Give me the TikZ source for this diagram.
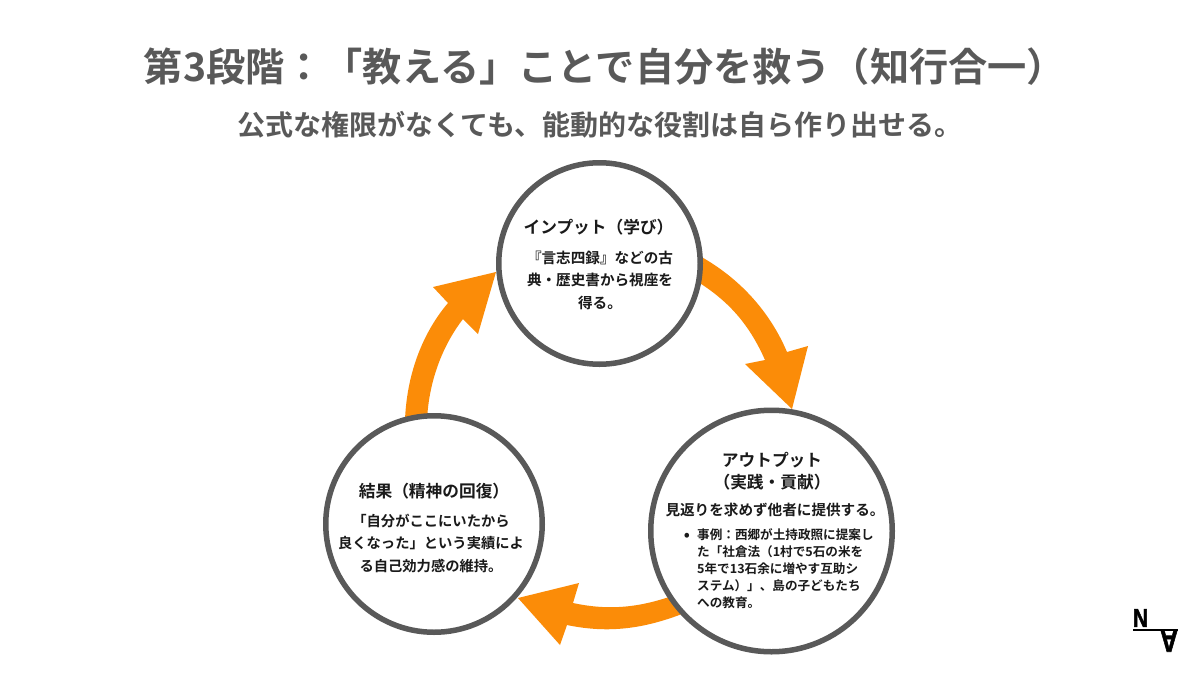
\documentclass[tikz,border=0pt]{standalone}
\usepackage{fontspec}
\setmainfont{Noto Sans CJK JP}[BoldFont={Noto Sans CJK JP Bold}]
\newfontfamily\jpb{Noto Sans CJK JP Bold}
\newfontfamily\logofont[FakeBold=2]{Liberation Sans Bold}
\definecolor{ringgray}{HTML}{595959}
\definecolor{titlegray}{HTML}{595959}
\definecolor{arroworange}{HTML}{FB8C08}
\definecolor{inkdark}{HTML}{1A1A1A}
\tikzset{
  ring/.style={circle,draw=ringgray,line width=5.5pt,fill=white,inner sep=0pt},
  cyclearrow/.style={fill=arroworange,draw=none},
  head/.style={font=\jpb\fontsize{16.7}{22}\selectfont,text=inkdark,align=center,anchor=center},
  body/.style={font=\jpb\fontsize{14.6}{22.5}\selectfont,text=inkdark,align=center,anchor=center},
  sbody/.style={font=\jpb\fontsize{12.6}{17}\selectfont,text=inkdark,align=left,anchor=north west,inner sep=0pt},
  ttl/.style={text=titlegray,anchor=center},
  logomark/.style={inner sep=0pt,text=black,font=\logofont\fontsize{26}{26}\selectfont}
}
\begin{document}
\begin{tikzpicture}[x=1pt,y=-1pt]
\useasboundingbox (0,0) rectangle (1200,675);
\fill[white] (0,0) rectangle (1200,675);
\node[ttl,font=\jpb\fontsize{39.2}{46}\selectfont] (title) at (605,67) {第3段階：「教える」ことで自分を救う（知行合一）};
\node[ttl,font=\jpb\fontsize{28}{34}\selectfont] (subtitle) at (600,125) {公式な権限がなくても、能動的な役割は自ら作り出せる。};
% arrows
\fill[cyclearrow] (698,255) .. controls (740,278) and (770,312) .. (787,352) -- (808,346) -- (792,409) -- (745,364) -- (765,360) .. controls (750,326) and (730,302) .. (698,282) -- cycle;
\fill[cyclearrow] (672,596) .. controls (640,607) and (610,611) .. (573,603) -- (579,583) -- (518,598) -- (560,645) -- (567,625) .. controls (610,634) and (645,628) .. (682,614) -- cycle;
\fill[cyclearrow] (405,420) .. controls (407,370) and (425,330) .. (448,303) -- (433,287) -- (496,272) -- (478,334) -- (463,319) .. controls (443,345) and (429,380) .. (427,420) -- cycle;
% circles
\node[ring,minimum size=201.5pt] (input) at (599.5,263.5) {};
\node[ring,minimum size=241.5pt] (output) at (771.5,531) {};
\node[ring,minimum size=216.5pt] (result) at (434,524) {};
% texts
\node[head] (t1) at (598.5,227) {インプット（学び）};
\node[body] (b1) at (600,280) {『言志四録』などの古\\典・歴史書から視座を\\得る。};
\node[head] (t2) at (772,471) {アウトプット\\（実践・貢献）};
\node[body] (b2) at (775,510) {見返りを求めず他者に提供する。};
\node[font=\jpb\fontsize{16}{16}\selectfont,text=inkdark,inner sep=0pt] (dot) at (687,537) {•};
\node[sbody] (b3) at (697,528) {事例：西郷が土持政照に提案し\\た「社倉法（1村で5石の米を\\5年で13石余に増やす互助シ\\ステム）」、島の子どもたち\\への教育。};
\node[head] (t3) at (434,491) {結果（精神の回復）};
\node[body,font=\jpb\fontsize{14.3}{22.5}\selectfont] (b4) at (431,543) {「自分がここにいたから\\良くなった」という実績によ\\る自己効力感の維持。};
% logo
\node[logomark,xscale=.8] (logoN) at (1140.5,618) {N};
\node[logomark,rotate=180,xscale=.95,yscale=1.2] (logoA) at (1169,641) {A};
\coordinate (la) at (1133,630);
\coordinate (lb) at (1178,630);
\draw[line width=1.6pt,black] (la) -- (lb);
\end{tikzpicture}
\end{document}
